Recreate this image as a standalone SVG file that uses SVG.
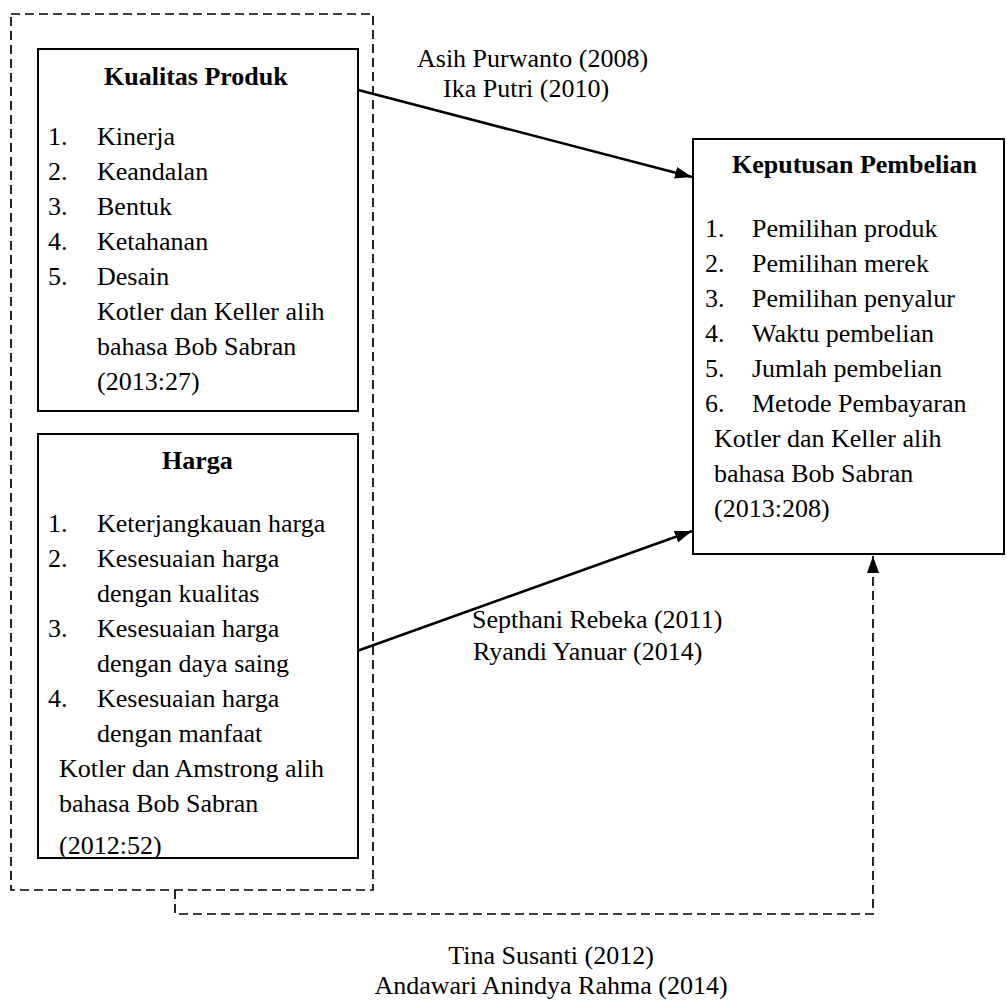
<svg xmlns="http://www.w3.org/2000/svg" width="1007" height="1001" viewBox="0 0 1007 1001" font-family="'Liberation Serif', 'Times New Roman', Times, serif">
<style>
  text { font-family: "Liberation Serif", "Times New Roman", Times, serif; font-size: 26px; fill: #000; }
  .title { font-weight: bold; }
  .box { fill: #fff; stroke: #000; stroke-width: 2; }
  .dash { fill: none; stroke: #000; stroke-width: 1.7; stroke-dasharray: 9 5; }
  .arrow { fill: none; stroke: #000; stroke-width: 2.6; }
</style>
<defs>
  <marker id="ah" markerUnits="userSpaceOnUse" markerWidth="18" markerHeight="14" refX="17" refY="7" orient="auto">
    <path d="M0,1 L17,7 L0,13 z" fill="#000"/>
  </marker>
  <clipPath id="hargaClip"><rect x="38" y="434" width="320" height="423"/></clipPath>
</defs>
<rect width="1007" height="1001" fill="#fff"/>

<g id="connectors">
  <rect class="dash" x="11" y="14" width="362" height="876"/>
  <path class="dash" d="M175,890 V914 H873 V556" marker-end="url(#ah)"/>
  <line class="arrow" x1="343" y1="86" x2="692" y2="177" marker-end="url(#ah)"/>
  <line class="arrow" x1="357" y1="651" x2="692" y2="531" marker-end="url(#ah)"/>
</g>

<g id="kualitas-produk">
  <rect class="box" x="38" y="49" width="320" height="362"/>
  <text class="title" x="104" y="85">Kualitas Produk</text>
  <text x="48" y="145">1.</text><text x="97" y="145">Kinerja</text>
  <text x="48" y="180">2.</text><text x="97" y="180">Keandalan</text>
  <text x="48" y="215">3.</text><text x="97" y="215">Bentuk</text>
  <text x="48" y="250">4.</text><text x="97" y="250">Ketahanan</text>
  <text x="48" y="285">5.</text><text x="97" y="285">Desain</text>
  <text x="97" y="320">Kotler dan Keller alih</text>
  <text x="97" y="355">bahasa Bob Sabran</text>
  <text x="97" y="390">(2013:27)</text>
</g>

<g id="harga">
  <rect class="box" x="38" y="434" width="320" height="424"/>
  <text class="title" x="162" y="469">Harga</text>
  <g clip-path="url(#hargaClip)">
    <text x="48" y="532">1.</text><text x="97" y="532">Keterjangkauan harga</text>
    <text x="48" y="567">2.</text><text x="97" y="567">Kesesuaian harga</text>
    <text x="97" y="602">dengan kualitas</text>
    <text x="48" y="637">3.</text><text x="97" y="637">Kesesuaian harga</text>
    <text x="97" y="672">dengan daya saing</text>
    <text x="48" y="707">4.</text><text x="97" y="707">Kesesuaian harga</text>
    <text x="97" y="742">dengan manfaat</text>
    <text x="59" y="777">Kotler dan Amstrong alih</text>
    <text x="59" y="812">bahasa Bob Sabran</text>
    <text x="59" y="854">(2012:52)</text>
  </g>
</g>

<g id="keputusan-pembelian">
  <rect class="box" x="693" y="139" width="311" height="415"/>
  <text class="title" x="732" y="173">Keputusan Pembelian</text>
  <text x="705" y="237">1.</text><text x="752" y="237">Pemilihan produk</text>
  <text x="705" y="272">2.</text><text x="752" y="272">Pemilihan merek</text>
  <text x="705" y="307">3.</text><text x="752" y="307">Pemilihan penyalur</text>
  <text x="705" y="342">4.</text><text x="752" y="342">Waktu pembelian</text>
  <text x="705" y="377">5.</text><text x="752" y="377">Jumlah pembelian</text>
  <text x="705" y="412">6.</text><text x="752" y="412">Metode Pembayaran</text>
  <text x="714" y="447">Kotler dan Keller alih</text>
  <text x="714" y="482">bahasa Bob Sabran</text>
  <text x="714" y="517">(2013:208)</text>
</g>

<g id="labels">
  <text x="417" y="67">Asih Purwanto (2008)</text>
  <text x="443" y="97">Ika Putri (2010)</text>
  <text x="472" y="628">Septhani Rebeka (2011)</text>
  <text x="473" y="660">Ryandi Yanuar (2014)</text>
  <text x="551" y="964" text-anchor="middle">Tina Susanti (2012)</text>
  <text x="551" y="994" text-anchor="middle">Andawari Anindya Rahma (2014)</text>
</g>
</svg>
